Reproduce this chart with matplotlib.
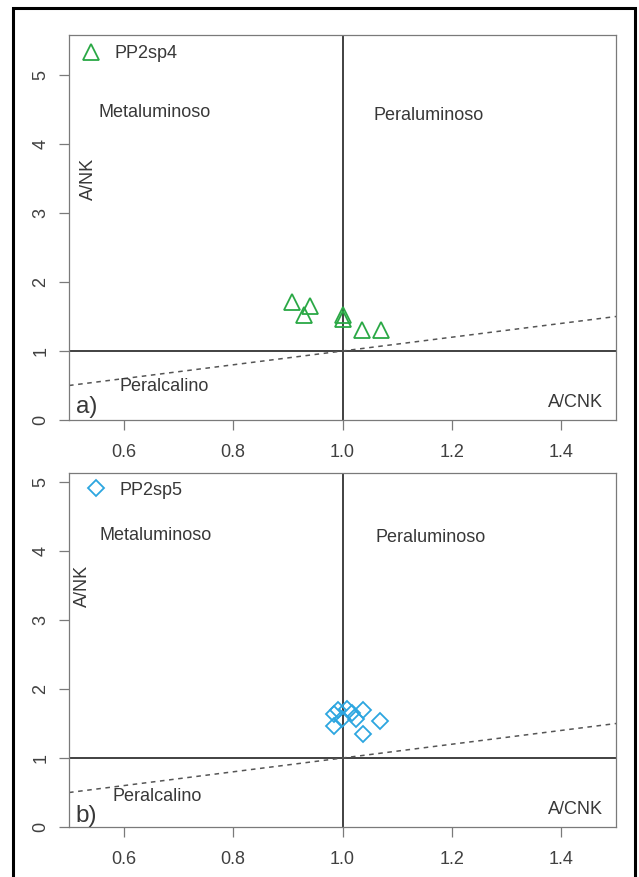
import matplotlib
matplotlib.use('Agg')
import matplotlib.pyplot as plt
from matplotlib.patches import Rectangle

plt.rcParams['font.family'] = ['Liberation Sans', 'DejaVu Sans']

# Shand index: A/CNK vs A/NK (molar)
acnk_sp4 = [0.907, 0.941, 0.930, 1.000, 1.000, 1.035, 1.071]
ank_sp4 = [1.71, 1.65, 1.52, 1.52, 1.46, 1.30, 1.31]

acnk_sp5 = [0.992, 1.009, 1.037, 1.018, 0.985, 1.024, 0.999, 0.985, 1.069, 1.037]
ank_sp5 = [1.70, 1.71, 1.70, 1.65, 1.64, 1.56, 1.56, 1.46, 1.54, 1.35]

x_ticks = [0.6, 0.8, 1.0, 1.2, 1.4]
x_labels = ['0.6', '0.8', '1.0', '1.2', '1.4']
y_ticks = [0, 1, 2, 3, 4, 5]

TXT = '#383838'
FS = 13

fig = plt.figure(figsize=(6.39, 8.77), dpi=100, facecolor='w')
ax_a = fig.add_axes([0.108, 0.5211, 0.856, 0.439])
ax_b = fig.add_axes([0.108, 0.057, 0.856, 0.4036])


def panel(ax, x, y, marker, ms, color, name, tag, ymax, leg_xy, txt):
    ax.set_xlim(0.5, 1.5)
    ax.set_ylim(0, ymax)
    for s in ax.spines.values():
        s.set_color('#7a7a7a')
        s.set_linewidth(0.9)
    ax.set_xticks(x_ticks)
    ax.set_xticklabels(x_labels)
    ax.set_yticks(y_ticks)
    ax.tick_params(direction='out', length=7.5, width=0.9, color='#7a7a7a',
                   labelsize=FS, labelcolor='#404040')
    ax.tick_params(axis='x', pad=9.5)
    ax.tick_params(axis='y', pad=6.5)
    for lab in ax.get_yticklabels():
        lab.set_rotation(90)
        lab.set_va('center')
    # field boundaries
    ax.axvline(1.0, color='#333333', lw=1.3, zorder=1)
    ax.axhline(1.0, color='#333333', lw=1.3, zorder=1)
    ax.axline((1.0, 1.0), slope=1.0, color='#555555', lw=1.1, ls=(0, (3, 3)), zorder=1)
    ax.plot(x, y, ls='none', marker=marker, ms=ms, mfc='none', mec=color, mew=1.3,
            label=name, zorder=3)
    leg = ax.legend(loc='center left', bbox_to_anchor=leg_xy, frameon=False, borderpad=0,
                    borderaxespad=0, handlelength=1.0, handletextpad=0.8, numpoints=1,
                    fontsize=FS)
    for t in leg.get_texts():
        t.set_color(TXT)
    for s, (tx, ty), ha in zip(['Metaluminoso', 'Peraluminoso', 'Peralcalino', 'A/CNK'],
                               txt, ['left', 'left', 'left', 'right']):
        ax.text(tx, ty, s, ha=ha, va='center', fontsize=FS, color=TXT)
    ax.text(txt[4][0], txt[4][1], 'A/NK', rotation=90, ha='center', va='center',
            fontsize=FS, color=TXT)
    ax.text(0.512, txt[5], tag, ha='left', va='center', fontsize=17.5, color=TXT)


panel(ax_a, acnk_sp4, ank_sp4, '^', 12, '#2aa845', 'PP2sp4', 'a)', 5.58, (0.024, 0.952),
      [(0.553, 4.45), (1.056, 4.42), (0.593, 0.48), (1.477, 0.26), (0.535, 3.5), 0.19])
panel(ax_b, acnk_sp5, ank_sp5, 'D', 8.6, '#2ca6e0', 'PP2sp5', 'b)', 5.13, (0.033, 0.952),
      [(0.555, 4.22), (1.06, 4.19), (0.58, 0.44), (1.477, 0.25), (0.524, 3.5), 0.16])

# outer frame of the plate
fig.add_artist(Rectangle((13 / 639, -0.05), 622 / 639, 1.05 - 8 / 877, transform=fig.transFigure,
                         fill=False, ec='k', lw=2.2, clip_on=False))

fig.savefig('out.png', dpi=100, facecolor='w')
